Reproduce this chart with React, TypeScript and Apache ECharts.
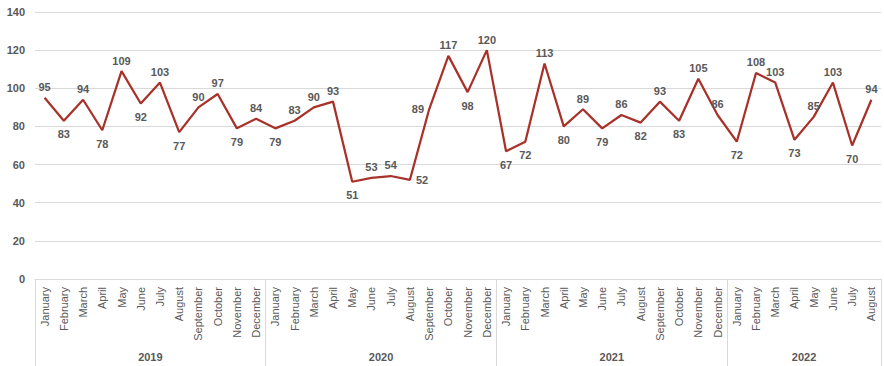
import React, { useEffect, useRef } from "react";
import * as echarts from "echarts";

const monthNames = [
  "January", "February", "March", "April", "May", "June",
  "July", "August", "September", "October", "November", "December",
];
const years = ["2019", "2020", "2021", "2022"];
const values2019 = [95, 83, 94, 78, 109, 92, 103, 77, 90, 97, 79, 84];
const values2020 = [79, 83, 90, 93, 51, 53, 54, 52, 89, 117, 98, 120];
const values2021 = [67, 72, 113, 80, 89, 79, 86, 82, 93, 83, 105, 86];
const values2022 = [72, 108, 103, 73, 85, 103, 70, 94];
const yTicks = { min: 0, max: 140, interval: 20 };

// label placement per point (t = above, b = below, l/r = side, with optional nudge)
const labelPlacement = [
  "t", "b", "t", "b", "t", "b", "t", "b", "t", "t", "b", "t",
  "b", "t", "t", "t", "bl", "t", "t", "r", "lu", "t", "b", "t",
  "bl", "br", "t", "b", "t", "br", "t", "br", "t", "b", "t", "tr",
  "b", "t", "t", "b", "t", "t", "b", "t",
];

const FONT = "'Liberation Sans', Arial, sans-serif";
const GRAY = "#595959";
const LINE = "#d9d9d9";

export default function App() {
  const ref = useRef<HTMLDivElement>(null);
  useEffect(() => {
    if (!ref.current) return;
    const chart = echarts.init(ref.current, null, { renderer: "svg" });
    const yearValues = [values2019, values2020, values2021, values2022];
    const categories: string[] = [];
    const values: number[] = [];
    yearValues.forEach((arr) => {
      arr.forEach((v, i) => {
        categories.push(monthNames[i]);
        values.push(v);
      });
    });
    const total = values.length;
    const yearAxisData: string[] = new Array(total + 1).fill("");
    const boundaries: number[] = [0];
    let start = 0;
    yearValues.forEach((arr, k) => {
      const center = start + arr.length / 2;
      yearAxisData[Math.round(center)] = years[k];
      start += arr.length;
      boundaries.push(start);
    });

    const data = values.map((v, i) => {
      const p = labelPlacement[i] || "t";
      let position: any = "top";
      let distance = 5;
      let offset: [number, number] = [0, 0];
      if (p[0] === "b") {
        position = "bottom";
        distance = 8;
      } else if (p[0] === "r") {
        position = "right";
        distance = 6;
      } else if (p[0] === "l") {
        position = "left";
        distance = 5;
      }
      if (p === "lu") {
        offset = [0, -14];
      } else if (p.length > 1) {
        offset = [p[1] === "l" ? -10 : 10, 0];
      }
      return {
        value: v,
        label: {
          show: true,
          position,
          distance,
          offset,
          color: GRAY,
          fontSize: 11,
          fontWeight: "bold",
          fontFamily: FONT,
        },
      };
    });

    chart.setOption({
      animation: false,
      grid: { left: 35, right: 0, top: 12, bottom: 87, containLabel: false },
      xAxis: [
        {
          type: "category",
          data: categories,
          boundaryGap: true,
          axisLine: { show: true, lineStyle: { color: LINE, width: 1 } },
          axisTick: { show: false },
          axisLabel: {
            interval: 0,
            rotate: 90,
            margin: 8,
            color: GRAY,
            fontSize: 11,
            fontFamily: FONT,
          },
        },
        {
          type: "category",
          data: yearAxisData,
          boundaryGap: false,
          position: "bottom",
          offset: 0,
          axisLine: { show: false },
          axisTick: {
            show: true,
            interval: (index: number) => boundaries.includes(index),
            length: 87,
            lineStyle: { color: LINE, width: 1 },
          },
          axisLabel: {
            interval: 0,
            margin: 72,
            color: GRAY,
            fontSize: 11,
            fontWeight: "bold",
            fontFamily: FONT,
          },
        },
      ],
      yAxis: {
        type: "value",
        min: yTicks.min,
        max: yTicks.max,
        interval: yTicks.interval,
        axisLine: { show: false },
        axisTick: { show: false },
        splitLine: { lineStyle: { color: LINE, width: 1 } },
        axisLabel: {
          margin: 10,
          color: GRAY,
          fontSize: 11,
          fontWeight: "bold",
          fontFamily: FONT,
        },
      },
      series: [
        {
          type: "line",
          xAxisIndex: 0,
          data,
          showSymbol: true,
          symbol: "circle",
          symbolSize: 0.1,
          lineStyle: { color: "#A8322A", width: 2.25 },
          itemStyle: { color: "#A8322A" },
          label: {
            show: true,
            color: GRAY,
            fontSize: 11,
            fontWeight: "bold",
            fontFamily: FONT,
          },
          labelLayout: { hideOverlap: false },
        },
      ],
    });
    return () => chart.dispose();
  }, []);
  return (
    <div
      ref={ref}
      style={{ position: "fixed", left: 0, top: 0, width: 884, height: 366, background: "#fff" }}
    />
  );
}
